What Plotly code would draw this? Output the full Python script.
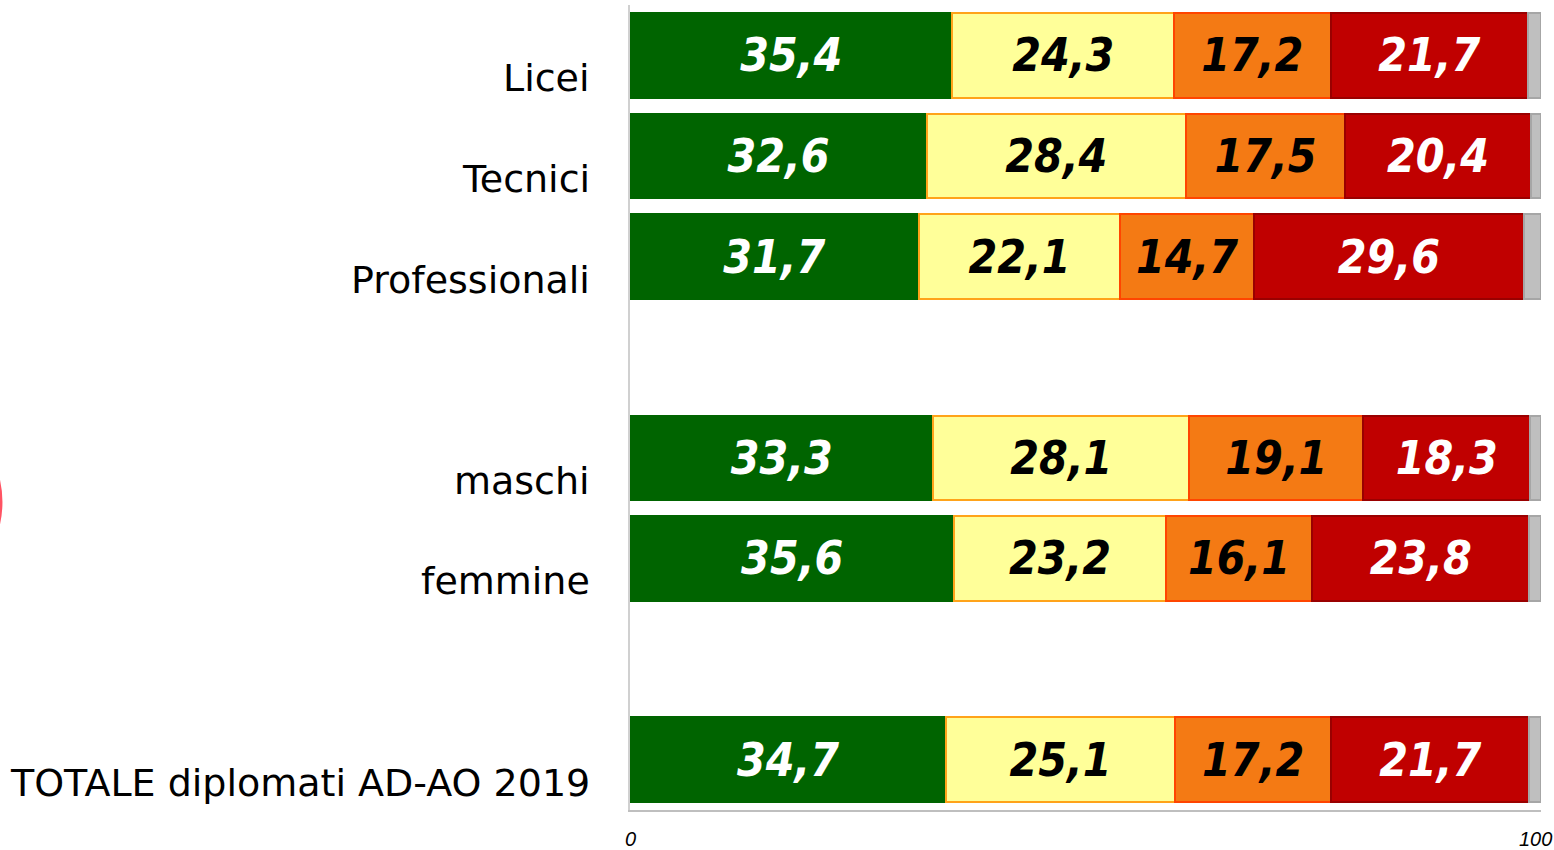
import plotly.graph_objects as go

# Rows top to bottom; the two "gap" rows are empty spacer slots
categories = ["Licei", "Tecnici", "Professionali", "gap1",
              "maschi", "femmine", "gap2", "TOTALE diplomati AD-AO 2019"]
labels = ["Licei", "Tecnici", "Professionali", "",
          "maschi", "femmine", "", "TOTALE diplomati AD-AO 2019"]

green = [35.4, 32.6, 31.7, None, 33.3, 35.6, None, 34.7]
yellow = [24.3, 28.4, 22.1, None, 28.1, 23.2, None, 25.1]
orange = [17.2, 17.5, 14.7, None, 19.1, 16.1, None, 17.2]
red = [21.7, 20.4, 29.6, None, 18.3, 23.8, None, 21.7]
grey = [1.4, 1.1, 1.9, None, 1.2, 1.3, None, 1.3]

axis_ticks = [0, 100]

# (values, fill, border, text colour, show labels)
_SEGMENTS = [
    (green, "#006400", "#006400", "white", True),
    (yellow, "#FFFF99", "#FFA31A", "black", True),
    (orange, "#F47A14", "#FF4500", "black", True),
    (red, "#C00000", "#9A0000", "white", True),
    (grey, "#BFBFBF", "#A6A6A6", "black", False),
]


def fmt(v):
    return "" if v is None else f"{v:.1f}".replace(".", ",")


fig = go.Figure()
for values, fill, border, txt, show in _SEGMENTS:
    fig.add_trace(go.Bar(
        y=categories,
        x=values,
        orientation="h",
        marker={"color": fill, "line": {"color": border, "width": 2}},
        text=[fmt(v) for v in values] if show else None,
        textposition="inside" if show else "none",
        insidetextanchor="middle",
        textangle=0,
        textfont={"family": "DejaVu Sans Condensed", "size": 46,
                  "color": txt, "weight": "bold", "style": "italic"},
        hoverinfo="skip",
        showlegend=False,
    ))

# category labels sit a little below the bar centre, as in the original
for cat, lab in zip(categories, labels):
    if not lab:
        continue
    fig.add_annotation(
        x=0, xref="paper", y=cat, yref="y",
        text=lab, showarrow=False,
        xanchor="right", yanchor="middle",
        xshift=-38, yshift=-23,
        font={"family": "DejaVu Sans", "size": 38, "color": "black"},
    )

# axis end labels (last one kept inside the page)
for i, t in enumerate(axis_ticks):
    fig.add_annotation(
        x=t, xref="x", y=0, yref="paper",
        text=str(t), showarrow=False,
        xanchor="right" if i == len(axis_ticks) - 1 else "center",
        xshift=13 if i == len(axis_ticks) - 1 else 0,
        yanchor="top", yshift=-16,
        font={"family": "Liberation Sans", "size": 20, "color": "black",
              "style": "italic"},
    )

# clipped red circle at the left edge
fig.add_shape(type="circle", xref="paper", yref="paper",
              x0=-0.912, x1=-0.6905, y0=0.257, y1=0.508,
              line={"color": "rgba(255,40,60,0.8)", "width": 3})

fig.update_layout(
    barmode="stack",
    bargap=0.16,
    width=1554,
    height=850,
    margin={"l": 630, "r": 13, "t": 5, "b": 40},
    plot_bgcolor="white",
    paper_bgcolor="white",
)
fig.update_xaxes(
    range=[0, 100],
    showticklabels=False,
    automargin=False,
    showgrid=False, zeroline=False,
    showline=True, linecolor="#BFBFBF", linewidth=2,
    ticks="",
)
fig.update_yaxes(
    categoryorder="array",
    categoryarray=categories,
    autorange="reversed",
    showticklabels=False,
    automargin=False,
    showgrid=False, zeroline=False,
    showline=True, linecolor="#D0D0D0", linewidth=2,
    ticks="",
)

fig.write_html("out.html", config={"displayModeBar": False},
               post_script="document.body.style.margin='0';")
